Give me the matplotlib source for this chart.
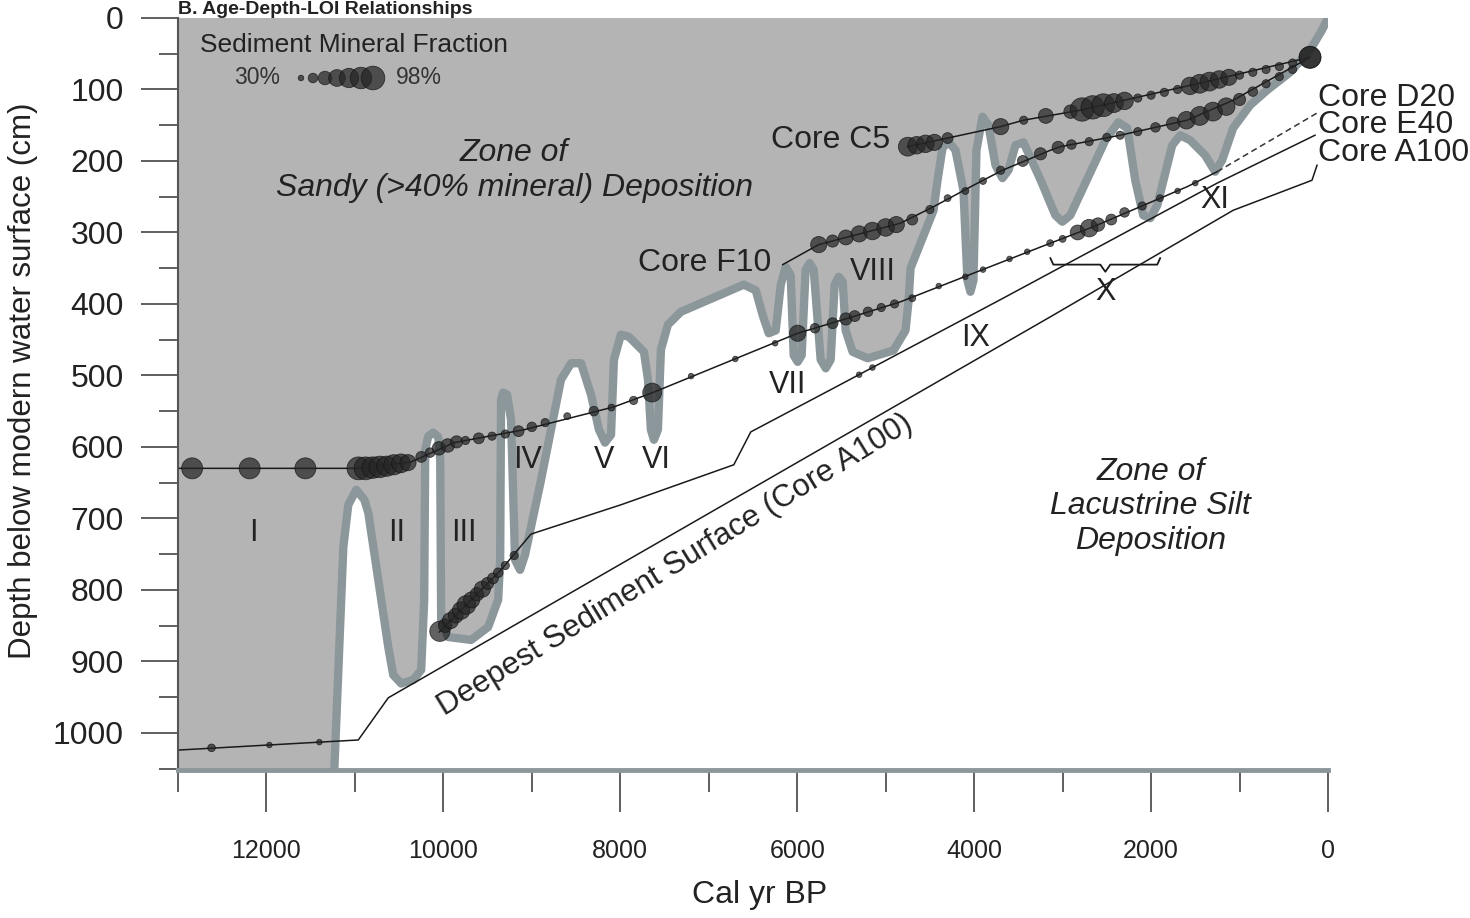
"""Age-depth / mineral fraction relationships chart."""

from __future__ import annotations

import matplotlib

matplotlib.use("Agg")
import matplotlib.pyplot as plt
import numpy as np

plt.rcParams["font.family"] = ["Liberation Sans", "DejaVu Sans"]

# lake-level envelope (cal yr BP, depth cm)
LEVEL_AGE = [11233, 11131, 11075, 10984, 10894, 10849, 10623, 10567, 10477, 10341, 10251,
             10217, 10205, 10171, 10115, 10058, 10036, 10025, 9946, 9686, 9494, 9381, 9358,
             9348, 9325, 9280, 9235, 9190, 9133, 9077, 8896, 8671, 8557, 8444, 8331, 8241,
             8173, 8105, 8072, 7993, 7903, 7733, 7687, 7654, 7620, 7575, 7541, 7462, 7315,
             6604, 6469, 6390, 6322, 6243, 6186, 6130, 6074, 6040, 5995, 5950, 5905, 5859,
             5814, 5735, 5678, 5622, 5577, 5531, 5486, 5453, 5374, 5204, 4911, 4776, 4741,
             4719, 4459, 4414, 4358, 4290, 4211, 4121, 4076, 4042, 4008, 3974, 3906, 3838,
             3759, 3680, 3612, 3533, 3443, 3251, 3082, 3003, 2913, 2517, 2371, 2269, 2179,
             2089, 2009, 1930, 1761, 1671, 1558, 1389, 1276, 1197, 1072,
             881, 689, 429, 203, 68, 0]
LEVEL_DEPTH = [1052, 740, 681, 660, 674, 692, 880, 919, 931, 926, 912,
               814, 604, 585, 580, 586, 618, 842, 866, 870, 852, 814, 758,
               534, 524, 527, 562, 758, 772, 751, 646, 506, 483, 483, 527, 576,
               594, 583, 478, 443, 446, 467, 506, 576, 590, 576, 464, 429, 411,
               373, 381, 416, 441, 437, 373, 348, 360, 472, 481, 472, 352, 343,
               352, 478, 490, 478, 373, 362, 369, 437, 467, 476, 465, 437, 395,
               350, 269, 227, 182, 173, 185, 241, 367, 383, 367, 185, 138, 150,
               206, 224, 213, 178, 174, 226, 276, 285, 276, 171, 146, 154, 227,
               276, 280, 262, 178, 164, 171, 192, 215, 199, 154,
               122, 101, 76, 45, 17, 0]

# core age-depth lines
D20_AGE = [12982, 10900, 10364, 9878, 9088, 8072, 7632, 5995, 5374, 4832, 4008, 3138, 2653, 1592, 1253]
D20_DEPTH = [630, 630, 621, 594, 576, 544, 524, 441, 418, 397, 357, 315, 292, 236, 215]
D20_EXT_AGE = [1253, 124]
D20_EXT_DEPTH = [215, 133]

F10_AGE = [6164, 5757, 4832, 4459, 4008, 3680, 3138, 3025, 2348, 1592, 1072, 203]
F10_DEPTH = [345, 317, 287, 264, 234, 213, 185, 180, 164, 143, 115, 55]

C5_AGE = [4753, 4301, 3703, 3443, 2800, 1445, 203]
C5_DEPTH = [180, 168, 152, 143, 129, 91, 55]

E40_AGE = [10047, 9348, 9010, 7993, 6717, 6525, 5622, 3703, 1253, 147]
E40_DEPTH = [859, 772, 722, 681, 625, 579, 520, 394, 231, 164]

A100_AGE = [12982, 10962, 10623, 3138, 1072, 181, 124]
A100_DEPTH = [1024, 1010, 951, 418, 269, 227, 206]

# sediment mineral fraction samples (age, depth, fraction)
D20_S_AGE = [12840, 12190, 11560, 10960, 10880, 10800, 10720, 10640, 10560, 10480, 10400,
             10250, 10150, 10050, 9950, 9850, 9750, 9600, 9450, 9300, 9150, 9000, 8850, 8600,
             8300, 8100, 7850, 7640, 7200, 6700, 6250, 5995, 5800, 5600, 5450, 5350, 5200,
             5050, 4900, 4700, 4400, 4100, 3900, 3600, 3400, 3140, 3000, 2830, 2700, 2600,
             2450, 2300, 2100, 1900, 1700, 1500]
D20_S_DEPTH = [630, 630, 630, 630, 630, 629, 628, 627, 625, 623, 622,
               614, 608, 602, 598, 593, 591, 588, 585, 582, 578, 572, 566, 557,
               550, 545, 535, 524, 501, 477, 455, 441, 434, 427, 421, 417, 411,
               405, 400, 392, 375, 362, 352, 337, 327, 315, 309, 300, 294, 289,
               282, 272, 263, 252, 242, 231]
D20_S_FRAC = [0.88, 0.88, 0.88, 0.95, 0.95, 0.9, 0.9, 0.85, 0.85, 0.8, 0.7,
              0.5, 0.45, 0.6, 0.6, 0.55, 0.4, 0.5, 0.4, 0.4, 0.5, 0.45, 0.4, 0.35,
              0.45, 0.35, 0.4, 0.8, 0.3, 0.3, 0.3, 0.7, 0.45, 0.5, 0.55, 0.5, 0.45,
              0.4, 0.4, 0.35, 0.3, 0.3, 0.3, 0.3, 0.3, 0.35, 0.35, 0.65, 0.75, 0.6,
              0.5, 0.45, 0.4, 0.35, 0.3, 0.3]

F10_S_AGE = [5757, 5600, 5450, 5300, 5150, 5000, 4880, 4700, 4500, 4300, 4100, 3900, 3700,
             3450, 3250, 3050, 2900, 2700, 2500, 2350, 2150, 1950, 1750, 1600, 1450, 1300,
             1150, 1000, 850, 700, 550, 400, 203]
F10_S_DEPTH = [317, 312, 307, 302, 298, 293, 289, 282, 268, 252, 242, 228, 213,
               200, 190, 181, 177, 173, 167, 164, 159, 153, 148, 143, 137, 131,
               124, 114, 103, 92, 82, 72, 55]
F10_S_FRAC = [0.7, 0.55, 0.65, 0.7, 0.75, 0.75, 0.7, 0.5, 0.4, 0.35, 0.35, 0.35, 0.4,
              0.5, 0.55, 0.55, 0.45, 0.4, 0.4, 0.4, 0.4, 0.45, 0.6, 0.75, 0.8, 0.8,
              0.75, 0.55, 0.45, 0.4, 0.4, 0.4, 0.9]

C5_S_AGE = [4750, 4650, 4550, 4450, 4300, 3700, 3440, 3190, 2910, 2780, 2660, 2540, 2420,
            2300, 2150, 2000, 1850, 1700, 1560, 1450, 1340, 1230, 1120, 1000, 850, 700,
            550, 400, 203]
C5_S_DEPTH = [180, 178, 176, 174, 168, 152, 143, 137, 131, 128, 125, 122, 119,
              116, 112, 108, 104, 100, 95, 92, 89, 86, 83, 80, 76, 72,
              68, 63, 55]
C5_S_FRAC = [0.8, 0.75, 0.75, 0.7, 0.5, 0.7, 0.4, 0.65, 0.6, 0.97, 0.97, 0.95, 0.8,
             0.75, 0.4, 0.4, 0.4, 0.4, 0.75, 0.8, 0.8, 0.75, 0.7, 0.4, 0.4, 0.4,
             0.4, 0.4, 0.92]

E40_S_AGE = [10040, 9980, 9920, 9860, 9800, 9740, 9680, 9620, 9560, 9500, 9440, 9380,
             9300, 9200, 5300, 5150]
E40_S_DEPTH = [858, 850, 843, 836, 829, 821, 814, 806, 799, 791, 784, 776,
               766, 752, 499, 489]
E40_S_FRAC = [0.85, 0.6, 0.7, 0.65, 0.75, 0.8, 0.7, 0.6, 0.7, 0.55, 0.5, 0.45,
              0.4, 0.4, 0.3, 0.3]

A100_S_AGE = [12621, 11967, 11402]
A100_S_DEPTH = [1021, 1017, 1013]
A100_S_FRAC = [0.38, 0.3, 0.3]

LEGEND_FRAC = [0.3, 0.45, 0.6, 0.72, 0.82, 0.9, 0.98]

NUMERALS = ["I", "II", "III", "IV", "V", "VI", "VII", "VIII", "IX", "X", "XI"]
NUMERAL_AGE = [12147, 10533, 9765, 9043, 8185, 7598, 6107, 5148, 3985, 2517, 1276]
NUMERAL_DEPTH = [720, 720, 720, 618, 618, 618, 513, 355, 448, 383, 255]

FILL_COLOR = "#b4b4b4"
LEVEL_COLOR = "#8c979b"
DOT_COLOR = "#262626"
TEXT_COLOR = "#222222"


def frac_to_size(frac) -> np.ndarray:
    """Map mineral fraction to scatter marker area (pt^2)."""
    frac = np.asarray(frac, dtype=float)
    diam = 4.0 + (frac - 0.3) / 0.68 * 13.0
    return diam ** 2


def draw_bubbles(ax, ages, depths, fracs) -> None:
    ax.scatter(ages, depths, s=frac_to_size(fracs), color=DOT_COLOR, alpha=0.72,
               edgecolors="#111111", linewidths=0.6, zorder=5)


def px_ax(px: float, py: float) -> tuple[float, float]:
    """Pixel position in the figure -> axes fraction."""
    return (px - 178) / 1150, 1 - (py - 18) / 752


def main() -> None:
    fig = plt.figure(figsize=(14.7, 9.18), dpi=100)
    ax = fig.add_axes([178 / 1470, 148 / 918, 1150 / 1470, 752 / 918])
    ax.set_xlim(13000, 0)
    ax.set_ylim(1052, 0)

    # sandy zone fill above the lake-level envelope
    poly_x = [13000, 13000] + LEVEL_AGE + [13000]
    poly_y = [0, 1052] + LEVEL_DEPTH + [0]
    ax.fill(poly_x, poly_y, color=FILL_COLOR, lw=0, zorder=1)
    ax.plot(LEVEL_AGE, LEVEL_DEPTH, color=LEVEL_COLOR, lw=6, solid_joinstyle="round",
            solid_capstyle="round", zorder=2)

    # core lines
    line_kw = dict(color="#1a1a1a", lw=1.1, zorder=4)
    ax.plot(D20_AGE, D20_DEPTH, **line_kw)
    ax.plot(D20_EXT_AGE, D20_EXT_DEPTH, color="#333333", lw=1.1, ls=(0, (4, 2.5)), zorder=4,
            clip_on=False)
    ax.plot(F10_AGE, F10_DEPTH, **line_kw)
    ax.plot(C5_AGE, C5_DEPTH, **line_kw)
    ax.plot(E40_AGE, E40_DEPTH, **line_kw, clip_on=False)
    ax.plot(A100_AGE, A100_DEPTH, **line_kw, clip_on=False)

    draw_bubbles(ax, D20_S_AGE, D20_S_DEPTH, D20_S_FRAC)
    draw_bubbles(ax, F10_S_AGE, F10_S_DEPTH, F10_S_FRAC)
    draw_bubbles(ax, C5_S_AGE, C5_S_DEPTH, C5_S_FRAC)
    draw_bubbles(ax, E40_S_AGE, E40_S_DEPTH, E40_S_FRAC)
    draw_bubbles(ax, A100_S_AGE, A100_S_DEPTH, A100_S_FRAC)

    # legend for bubble sizes
    ax.text(*px_ax(200, 45), "Sediment Mineral Fraction", transform=ax.transAxes,
            fontsize=19, va="center", ha="left", color=TEXT_COLOR)
    ax.text(*px_ax(257, 78), "30%", transform=ax.transAxes,
            fontsize=16.5, va="center", ha="center", color="#333333")
    ax.text(*px_ax(419, 78), "98%", transform=ax.transAxes,
            fontsize=16.5, va="center", ha="center", color="#333333")
    leg_x = (np.linspace(301, 373, len(LEGEND_FRAC)) - 178) / 1150
    ax.scatter(leg_x, np.full(len(LEGEND_FRAC), px_ax(0, 78)[1]), s=frac_to_size(LEGEND_FRAC),
               color=DOT_COLOR, alpha=0.72, edgecolors="#111111", linewidths=0.6,
               transform=ax.transAxes, zorder=5)

    # zone labels
    ax.text(9200, 213, "Zone of\nSandy (>40% mineral) Deposition", ha="center", va="center",
            fontsize=23, style="italic", linespacing=1.2, color=TEXT_COLOR, zorder=6)
    ax.text(2009, 683, "Zone of\nLacustrine Silt\nDeposition", ha="center", va="center",
            fontsize=23, style="italic", linespacing=1.2, color=TEXT_COLOR, zorder=6)
    ax.text(7380, 766, "Deepest Sediment Surface (Core A100)", ha="center", va="center",
            fontsize=22.5, rotation=31.5, rotation_mode="anchor", color=TEXT_COLOR, zorder=6)

    # core labels
    core_kw = dict(fontsize=23, va="center", color=TEXT_COLOR, zorder=6)
    ax.text(4945, 171, "Core C5", ha="right", **core_kw)
    ax.text(6299, 343, "Core F10", ha="right", **core_kw)
    ax.text(113, 112, "Core D20", ha="left", clip_on=False, **core_kw)
    ax.text(113, 150, "Core E40", ha="left", clip_on=False, **core_kw)
    ax.text(113, 189, "Core A100", ha="left", clip_on=False, **core_kw)

    for name, age, depth in zip(NUMERALS, NUMERAL_AGE, NUMERAL_DEPTH):
        ax.text(age, depth, name, ha="center", va="center", fontsize=22, color=TEXT_COLOR,
                zorder=6)

    # brace grouping episode X
    ax.plot([3138, 3105, 2574, 2517, 2461, 1930, 1897], [336, 345, 345, 355, 345, 345, 336],
            color="#1a1a1a", lw=1.3, zorder=6)

    # axes styling
    for side in ("top", "right"):
        ax.spines[side].set_visible(False)
    ax.spines["left"].set_color("#555555")
    ax.spines["left"].set_linewidth(1.5)
    ax.spines["bottom"].set_color(LEVEL_COLOR)
    ax.spines["bottom"].set_linewidth(3.5)

    ax.set_xticks(np.arange(12000, -1, -2000))
    ax.set_xticks(np.arange(13000, 0, -2000), minor=True)
    ax.set_yticks(np.arange(0, 1001, 100))
    ax.set_yticks(np.arange(50, 1051, 100), minor=True)
    ax.tick_params(axis="x", which="major", length=30, width=1.2, color="#444444",
                   labelsize=18, pad=20, labelcolor=TEXT_COLOR)
    ax.tick_params(axis="x", which="minor", length=16, width=1.2, color="#444444")
    ax.tick_params(axis="y", which="major", length=27, width=1.2, color="#444444",
                   labelsize=23, pad=12, labelcolor=TEXT_COLOR)
    ax.tick_params(axis="y", which="minor", length=14, width=1.2, color="#444444")

    ax.set_xlabel("Cal yr BP", fontsize=23, color=TEXT_COLOR)
    ax.xaxis.set_label_coords(*px_ax(760, 880))
    ax.set_ylabel("Depth below modern water surface (cm)", fontsize=22.5, color=TEXT_COLOR)
    ax.yaxis.set_label_coords(*px_ax(38, 381))

    fig.text(178 / 1470, 1 - 1 / 918, "B. Age-Depth-LOI Relationships", fontsize=14,
             fontweight="bold", ha="left", va="top", color=TEXT_COLOR)

    fig.savefig("out.png", dpi=100, facecolor="white")
    plt.close(fig)


if __name__ == "__main__":
    main()
